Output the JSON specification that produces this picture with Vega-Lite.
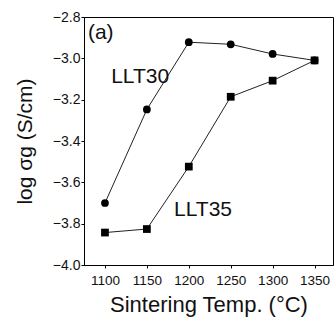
{
  "$schema": "https://vega.github.io/schema/vega-lite/v6.json",
  "width": 249,
  "height": 248,
  "autosize": {"type": "none"},
  "padding": {"left": 84, "top": 17, "right": 3, "bottom": 59},
  "background": "white",
  "config": {
    "view": {"stroke": "black", "strokeWidth": 1},
    "font": "Liberation Sans",
    "axis": {"labelFont": "Liberation Sans", "titleFont": "Liberation Sans", "labelColor": "#111", "titleColor": "#111", "domainColor": "black", "tickColor": "black", "grid": false, "titleFontWeight": "normal"}
  },
  "datasets": {
    "pts": [
      {"temp": 1100, "logs": -3.70, "sample": "LLT30"},
      {"temp": 1150, "logs": -3.247, "sample": "LLT30"},
      {"temp": 1200, "logs": -2.922, "sample": "LLT30"},
      {"temp": 1250, "logs": -2.932, "sample": "LLT30"},
      {"temp": 1300, "logs": -2.979, "sample": "LLT30"},
      {"temp": 1350, "logs": -3.01, "sample": "LLT30"},
      {"temp": 1100, "logs": -3.843, "sample": "LLT35"},
      {"temp": 1150, "logs": -3.826, "sample": "LLT35"},
      {"temp": 1200, "logs": -3.524, "sample": "LLT35"},
      {"temp": 1250, "logs": -3.186, "sample": "LLT35"},
      {"temp": 1300, "logs": -3.108, "sample": "LLT35"},
      {"temp": 1350, "logs": -3.01, "sample": "LLT35"}
    ],
    "labels": [
      {"temp": 1095, "logs": -2.877, "text": "(a)"},
      {"temp": 1142, "logs": -3.09, "text": "LLT30"},
      {"temp": 1217, "logs": -3.734, "text": "LLT35"}
    ]
  },
  "layer": [
    {
      "data": {"name": "pts"},
      "mark": {"type": "line", "color": "#222", "strokeWidth": 1},
      "encoding": {
        "x": {"field": "temp", "type": "quantitative", "scale": {"domain": [1075, 1372], "nice": false, "zero": false},
          "axis": {"values": [1100, 1150, 1200, 1250, 1300, 1350], "format": "d", "title": "Sintering Temp. (°C)", "labelFontSize": 13.5, "titleFontSize": 22, "tickSize": 3, "labelPadding": 5, "titlePadding": 8, "labelFlush": false}},
        "y": {"field": "logs", "type": "quantitative", "scale": {"domain": [-4.0, -2.8], "nice": false, "zero": false},
          "axis": {"values": [-4.0, -3.8, -3.6, -3.4, -3.2, -3.0, -2.8], "format": ".1f", "title": "log σg (S/cm)", "labelFontSize": 14, "titleFontSize": 21, "tickSize": 3, "labelPadding": 1, "titlePadding": 17, "labelFlush": false}},
        "detail": {"field": "sample"}
      }
    },
    {
      "data": {"name": "pts"},
      "mark": {"type": "point", "filled": true, "color": "black", "opacity": 1, "size": 60},
      "encoding": {
        "x": {"field": "temp", "type": "quantitative"},
        "y": {"field": "logs", "type": "quantitative"},
        "shape": {"field": "sample", "type": "nominal", "scale": {"domain": ["LLT30", "LLT35"], "range": ["circle", "square"]}, "legend": null}
      }
    },
    {
      "data": {"name": "labels"},
      "mark": {"type": "text", "fontSize": 21, "color": "#111", "baseline": "middle", "align": "center"},
      "encoding": {
        "x": {"field": "temp", "type": "quantitative"},
        "y": {"field": "logs", "type": "quantitative"},
        "text": {"field": "text"}
      }
    }
  ]
}
